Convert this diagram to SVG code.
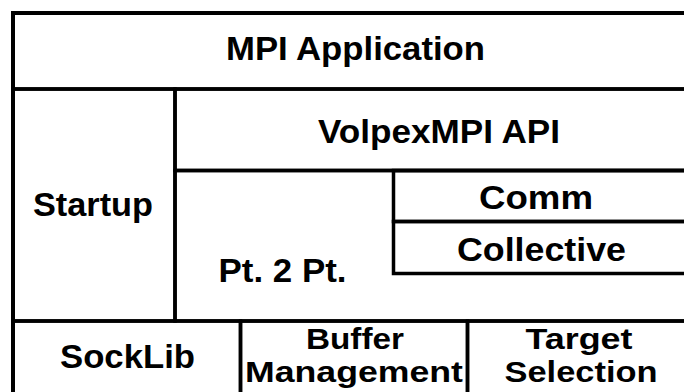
<svg xmlns="http://www.w3.org/2000/svg" width="684" height="392" viewBox="0 0 684 392">
  <style>
    .cell { fill: none; stroke: #000; stroke-width: 3.5; }
    .outer { fill: none; stroke: #000; stroke-width: 4; }
    .lbl { font-family: "Liberation Sans", Arial, sans-serif; font-weight: bold; font-size: 33px; fill: #000; text-anchor: middle; }
    .two { font-size: 29px; }
  </style>
  <rect x="0" y="0" width="684" height="392" fill="#fff"/>
  <g id="mpi-application">
    <rect class="cell" x="13" y="13" width="690" height="76"/>
    <text class="lbl" x="355.5" y="60" textLength="259" lengthAdjust="spacingAndGlyphs">MPI Application</text>
  </g>
  <g id="startup">
    <rect class="cell" x="13" y="89" width="162" height="232"/>
    <text class="lbl" x="93" y="216" textLength="120" lengthAdjust="spacingAndGlyphs">Startup</text>
  </g>
  <g id="volpexmpi-api">
    <rect class="cell" x="175" y="89" width="520" height="81.5"/>
    <text class="lbl" x="439" y="143" textLength="242" lengthAdjust="spacingAndGlyphs">VolpexMPI API</text>
  </g>
  <g id="pt2pt">
    <rect class="cell" x="175" y="170.5" width="520" height="150.5"/>
    <text class="lbl" x="282.5" y="281.5" textLength="128" lengthAdjust="spacingAndGlyphs">Pt. 2 Pt.</text>
  </g>
  <g id="comm">
    <rect class="cell" x="393.5" y="170.5" width="300" height="51"/>
    <text class="lbl" x="536" y="209" textLength="114" lengthAdjust="spacingAndGlyphs">Comm</text>
  </g>
  <g id="collective">
    <rect class="cell" x="393.5" y="221.5" width="300" height="52"/>
    <text class="lbl" x="541.5" y="260.5" textLength="169" lengthAdjust="spacingAndGlyphs">Collective</text>
  </g>
  <g id="socklib">
    <rect class="cell" x="13" y="321" width="227.5" height="80"/>
    <text class="lbl" x="127.5" y="368" textLength="135" lengthAdjust="spacingAndGlyphs">SockLib</text>
  </g>
  <g id="buffer-management">
    <rect class="cell" x="240.5" y="321" width="227" height="80"/>
    <text class="lbl two" x="355" y="349" textLength="98" lengthAdjust="spacingAndGlyphs">Buffer</text>
    <text class="lbl two" x="354" y="382" textLength="218" lengthAdjust="spacingAndGlyphs">Management</text>
  </g>
  <g id="target-selection">
    <rect class="cell" x="467.5" y="321" width="230" height="80"/>
    <text class="lbl two" x="579" y="349" textLength="107" lengthAdjust="spacingAndGlyphs">Target</text>
    <text class="lbl two" x="581" y="382" textLength="153" lengthAdjust="spacingAndGlyphs">Selection</text>
  </g>
  <g id="connectors"></g>
  <g id="frame">
    <line class="outer" x1="13" y1="11" x2="13" y2="400"/>
    <line class="outer" x1="11" y1="13" x2="700" y2="13"/>
  </g>
</svg>
